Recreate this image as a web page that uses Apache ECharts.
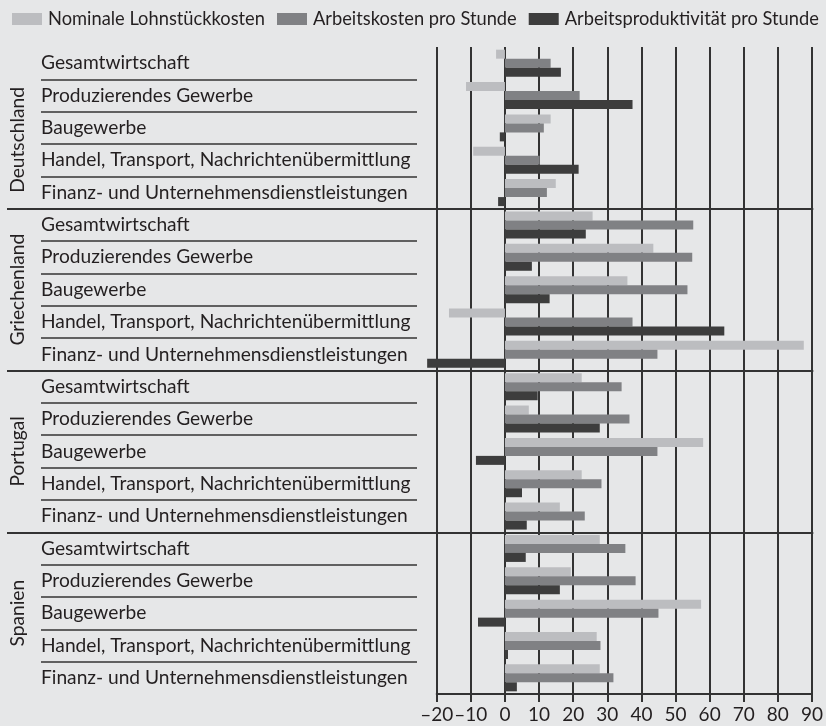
<!DOCTYPE html>
<html>
<head>
<meta charset="utf-8">
<script src="https://cdn.jsdelivr.net/npm/echarts@6/dist/echarts.min.js"></script>
<style>
  html, body { margin: 0; padding: 0; background: #e6e7e8; }
  #chart { width: 826px; height: 726px; }
</style>
</head>
<body>
<div id="chart"></div>
<script>
// ---------- data ----------
const countries = ['Deutschland', 'Griechenland', 'Portugal', 'Spanien'];
const sectors = [
  'Gesamtwirtschaft',
  'Produzierendes Gewerbe',
  'Baugewerbe',
  'Handel, Transport, Nachrichtenübermittlung',
  'Finanz- und Unternehmensdienstleistungen'
];
const seriesNames = ['Nominale Lohnstückkosten', 'Arbeitskosten pro Stunde', 'Arbeitsproduktivität pro Stunde'];
// values per row: Deutschland(5), Griechenland(5), Portugal(5), Spanien(5)
const nominaleLohnstueckkosten = [-2.6, -11.4, 13.4, -9.3, 14.9, 25.7, 43.5, 35.9, -16.4, 87.6, 22.5, 7.0, 58.1, 22.5, 16.1, 27.8, 19.3, 57.5, 26.9, 27.8];
const arbeitskostenProStunde = [13.4, 21.9, 11.4, 10.2, 12.3, 55.2, 54.9, 53.5, 37.4, 44.7, 34.2, 36.5, 44.7, 28.3, 23.4, 35.3, 38.3, 45.0, 28.0, 31.8];
const arbeitsproduktivitaetProStunde = [16.4, 37.4, -1.5, 21.6, -2.0, 23.7, 7.9, 13.1, 64.3, -22.8, 9.6, 27.8, -8.5, 5.0, 6.4, 6.1, 16.1, -7.9, 0.9, 3.5];
const xMin = -20, xMax = 90, xStep = 10;

// ---------- helpers ----------
const rows = [];
countries.forEach(c => sectors.forEach(s => rows.push(c + '|' + s)));
const FONT = 'Lato';
function fitSize(text, target) {
  const ctx = document.createElement('canvas').getContext('2d');
  ctx.font = '100px ' + FONT;
  return 100 * target / ctx.measureText(text).width;
}
const labelSize = fitSize('Handel, Transport, Nachrichtenübermittlung', 369.7);
const legendSize = fitSize('Nominale Lohnstückkosten Arbeitskosten pro StundeArbeitsproduktivität pro Stunde', 218 + 203 + 254 + 5);
const tickSize = 19;
const ink = '#231f20';
const lineCol = '#333333';

const TOP = 47, BOTTOM = 32;
const PLOT_LEFT = 436.7, PLOT_RIGHT = 826 - 813.3;

const countryData = countries.map((c, i) => i === 0
  ? { value: c, textStyle: { padding: [0, 24, 0, 0] } }
  : c);

const chart = echarts.init(document.getElementById('chart'), null, { renderer: 'canvas' });
const option = {
  backgroundColor: '#e6e7e8',
  animation: false,
  textStyle: { fontFamily: FONT, color: ink },
  color: ['#bcbdc0', '#808184', '#3d3d3d'],
  legend: {
    left: 7, top: 5,
    itemWidth: 30, itemHeight: 12, itemGap: 12,
    icon: 'rect',
    data: seriesNames,
    textStyle: { fontFamily: FONT, fontSize: legendSize, color: ink, padding: [0, 0, 0, 1] },
    selectedMode: false
  },
  grid: [
    { left: 7, right: PLOT_RIGHT, top: TOP, bottom: BOTTOM },      // country separators + country names
    { left: 41, right: 826 - 417, top: TOP, bottom: BOTTOM },      // sector labels + sector separators
    { left: PLOT_LEFT, right: PLOT_RIGHT, top: TOP, bottom: BOTTOM } // bars
  ],
  xAxis: [
    { gridIndex: 0, type: 'value', show: false, min: 0, max: 1 },
    { gridIndex: 1, type: 'value', show: false, min: 0, max: 1 },
    {
      gridIndex: 2, type: 'value', min: xMin, max: xMax, interval: xStep,
      axisLine: { show: true, onZero: false, lineStyle: { color: lineCol, width: 2 } },
      axisTick: { show: true, length: 8, lineStyle: { color: lineCol, width: 2 } },
      splitLine: { show: true, lineStyle: { color: lineCol, width: 2 } },
      axisLabel: {
        fontFamily: FONT, fontSize: tickSize, color: ink, margin: 11,
        formatter: v => (v < 0 ? '\u2013' + Math.abs(v) : String(v))
      }
    }
  ],
  yAxis: [
    {
      gridIndex: 0, type: 'value', position: 'right', min: 0, max: rows.length, interval: sectors.length,
      axisLine: { show: false }, axisTick: { show: false }, axisLabel: { show: false },
      splitLine: { show: true, showMinLine: false, showMaxLine: false, lineStyle: { color: lineCol, width: 2 } }
    },
    {
      gridIndex: 0, type: 'category', position: 'left', inverse: true, data: countryData,
      axisLine: { show: false }, axisTick: { show: false }, splitLine: { show: false },
      axisLabel: { inside: true, rotate: 90, margin: 1, fontFamily: FONT, fontSize: labelSize, color: ink }
    },
    {
      gridIndex: 1, type: 'value', position: 'right', min: 0, max: rows.length, interval: 1,
      axisLine: { show: false }, axisTick: { show: false }, axisLabel: { show: false },
      splitLine: { show: true, showMinLine: false, showMaxLine: false, lineStyle: { color: lineCol, width: 1.5 } }
    },
    {
      gridIndex: 1, type: 'category', position: 'left', inverse: true, data: rows,
      axisLine: { show: false }, axisTick: { show: false }, splitLine: { show: false },
      axisLabel: {
        inside: true, margin: 0, interval: 0, fontFamily: FONT, fontSize: labelSize, color: ink,
        formatter: v => v.split('|')[1]
      }
    },
    {
      gridIndex: 2, type: 'category', inverse: true, data: rows,
      axisLine: { show: false }, axisTick: { show: false }, axisLabel: { show: false }, splitLine: { show: false }
    }
  ],
  series: [
    { name: seriesNames[0], type: 'bar', xAxisIndex: 2, yAxisIndex: 4, data: nominaleLohnstueckkosten, barWidth: 9, barGap: '0%', clip: false },
    { name: seriesNames[1], type: 'bar', xAxisIndex: 2, yAxisIndex: 4, data: arbeitskostenProStunde, barWidth: 9, barGap: '0%', clip: false },
    { name: seriesNames[2], type: 'bar', xAxisIndex: 2, yAxisIndex: 4, data: arbeitsproduktivitaetProStunde, barWidth: 9, barGap: '0%', clip: false }
  ]
};
chart.setOption(option);
</script>
</body>
</html>
